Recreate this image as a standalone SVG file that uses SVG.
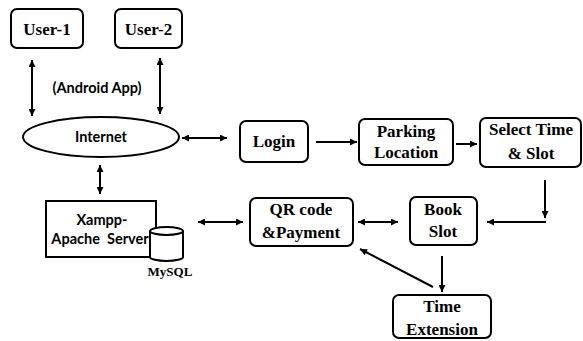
<svg xmlns="http://www.w3.org/2000/svg" width="583" height="341" viewBox="0 0 583 341">
<defs>
<marker id="ah" viewBox="0 0 10 10" refX="10" refY="5" markerWidth="8" markerHeight="7" markerUnits="userSpaceOnUse" orient="auto-start-reverse">
<path d="M0,0 L10,5 L0,10 z" fill="#000"/>
</marker>
<style>
.box{fill:#fff;stroke:#000;stroke-width:2}
.sq{fill:#fff;stroke:#000;stroke-width:2}
.t{font-family:"Liberation Serif","Times New Roman",serif;font-weight:bold;font-size:17px;fill:#000;text-anchor:middle}
.s{font-family:Lato,"Liberation Sans",Arial,sans-serif;font-weight:bold;font-size:14.5px;fill:#000;text-anchor:middle}
.c{fill:none;stroke:#000;stroke-width:2}
.a{marker-end:url(#ah)}
.d{marker-start:url(#ah);marker-end:url(#ah)}
</style>
</defs>
<rect width="583" height="341" fill="#fff"/>
<g id="connectors">
<line class="c d" x1="32" y1="60" x2="32" y2="116"/>
<line class="c d" x1="160" y1="58" x2="160" y2="114"/>
<line class="c d" x1="182" y1="138" x2="227" y2="138"/>
<line class="c d" x1="100" y1="165" x2="100" y2="194"/>
<line class="c a" x1="316" y1="142" x2="357" y2="142"/>
<line class="c a" x1="456" y1="144" x2="477" y2="144"/>
<line class="c a" x1="545" y1="180" x2="545" y2="218"/>
<line class="c a" x1="546" y1="222" x2="487" y2="222"/>
<line class="c d" x1="358" y1="222" x2="398" y2="222"/>
<line class="c d" x1="198" y1="222" x2="243" y2="222"/>
<line class="c a" x1="442" y1="256" x2="442" y2="292"/>
<line class="c a" x1="433" y1="287" x2="360" y2="249"/>
</g>
<g id="user1"><rect class="box" x="11" y="9" width="72" height="39" rx="6"/><text class="t" x="47" y="35">User-1</text></g>
<g id="user2"><rect class="box" x="115" y="9" width="67" height="39" rx="6"/><text class="t" x="148.5" y="35">User-2</text></g>
<g id="android-label"><text class="s" x="97" y="93">(Android App)</text></g>
<g id="internet"><ellipse cx="101" cy="137" rx="78" ry="20" fill="#fff" stroke="#000" stroke-width="2"/><text class="s" x="101" y="142">Internet</text></g>
<g id="xampp"><rect class="sq" x="46" y="201" width="110" height="56"/><text class="s" x="102" y="225">Xampp-</text><text class="s" x="100" y="244" xml:space="preserve">Apache  Server</text></g>
<g id="mysql">
<path d="M150,231 L150,257 A16.5,4 0 0 0 183,257 L183,231" fill="#fff" stroke="#000" stroke-width="2"/>
<ellipse cx="166.5" cy="231" rx="16.5" ry="4" fill="#fff" stroke="#000" stroke-width="2"/>
<text class="t" x="170" y="276" style="font-size:13px">MySQL</text>
</g>
<g id="login"><rect class="box" x="240" y="121" width="68" height="41" rx="6"/><text class="t" x="274" y="147">Login</text></g>
<g id="parking"><rect class="box" x="359" y="119" width="94" height="46" rx="6"/><text class="t" x="406" y="137">Parking</text><text class="t" x="406" y="158">Location</text></g>
<g id="select"><rect class="box" x="480" y="118" width="101" height="49" rx="6"/><text class="t" x="531" y="135">Select Time</text><text class="t" x="531" y="159">&amp; Slot</text></g>
<g id="book"><rect class="box" x="410" y="197" width="67" height="48" rx="6"/><text class="t" x="443" y="215">Book</text><text class="t" x="443" y="237">Slot</text></g>
<g id="qr"><rect class="box" x="250" y="198" width="103" height="48" rx="6"/><text class="t" x="301" y="215">QR code</text><text class="t" x="301" y="238">&amp;Payment</text></g>
<g id="timeext"><rect class="box" x="393" y="295" width="98" height="43" rx="6"/><text class="t" x="442" y="312">Time</text><text class="t" x="442" y="335">Extension</text></g>
</svg>
